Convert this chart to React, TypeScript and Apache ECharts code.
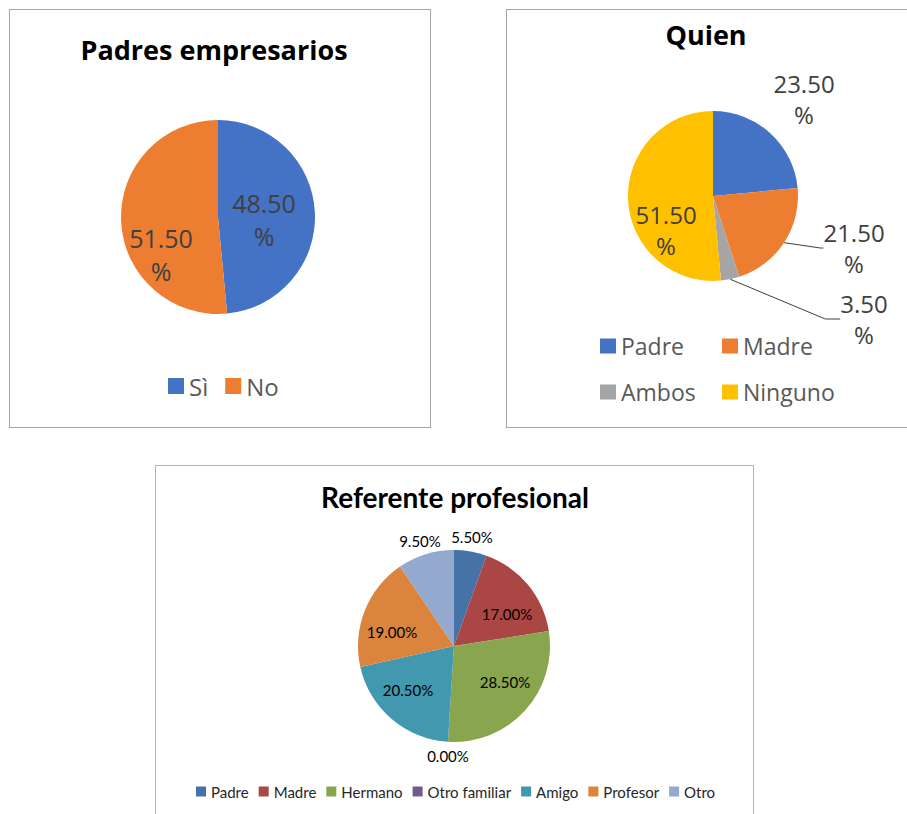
import React, { useEffect, useRef } from "react";
import * as echarts from "echarts";

// ---------- data ----------
const padresCategories = ["Sì", "No"];
const padresValues = [48.5, 51.5];

const quienCategories = ["Padre", "Madre", "Ambos", "Ninguno"];
const quienValues = [23.5, 21.5, 3.5, 51.5];

const referenteCategories = ["Padre", "Madre", "Hermano", "Otro familiar", "Amigo", "Profesor", "Otro"];
const referenteValues = [5.5, 17, 28.5, 0, 20.5, 19, 9.5];

// ---------- styles ----------
const office2013 = ["#4472C4", "#ED7D31", "#A5A5A5", "#FFC000"];
const office2007 = ["#4572A7", "#AA4643", "#89A54E", "#71588F", "#4198AF", "#DB843D", "#93A9CF"];

// label anchor points (chart-local pixels)
const padresLabelAt = [[255, 210], [152, 245]];
const quienLabelAt = [[298, 90], [348, 239], [358, 310], [160, 221]];
const referenteLabelAt = [[317, 72], [352, 149], [350, 217], [293, 291], [253, 225], [237, 167], [265, 76]];

const OS = "'Open Sans', sans-serif";
const LATO = "Lato, sans-serif";

function ChartBox(props: { left: number; top: number; width: number; height: number; border: any; option: any }) {
  const ref = useRef<HTMLDivElement>(null);
  useEffect(() => {
    const chart = echarts.init(ref.current!, null, { renderer: "svg" });
    chart.setOption(props.option);
    return () => chart.dispose();
  }, []);
  const { left, top, width, height, border } = props;
  return (
    <div style={{ position: "absolute", left, top, width, height }}>
      <div ref={ref} style={{ position: "absolute", left: 0, top: 0, width, height }} />
      <div
        style={{
          position: "absolute",
          left: 0,
          top: 0,
          width,
          height,
          boxSizing: "border-box",
          pointerEvents: "none",
          ...border,
        }}
      />
    </div>
  );
}

const option1 = {
  animation: false,
  title: {
    text: "Padres empresarios",
    left: 205,
    top: 27,
    textAlign: "center",
    padding: 0,
    textStyle: { fontFamily: OS, fontWeight: "bold", fontSize: 27, color: "#000" },
  },
  legend: {
    data: padresCategories,
    left: 159,
    top: 365,
    padding: 0,
    icon: "rect",
    itemWidth: 16,
    itemHeight: 16,
    itemGap: 17,
    textStyle: { fontFamily: OS, fontSize: 24, color: "#595959" },
  },
  series: [
    {
      type: "pie",
      center: [209, 208],
      radius: 97,
      startAngle: 90,
      clockwise: true,
      data: padresCategories.map((n, i) => ({ name: n, value: padresValues[i], itemStyle: { color: office2013[i] } })),
      itemStyle: { borderWidth: 0 },
      label: {
        position: "inside",
        formatter: (p: any) => p.value.toFixed(2) + "\n%",
        fontFamily: OS,
        fontSize: 25,
        lineHeight: 33,
        color: "#404040",
      },
      labelLine: { show: false },
      labelLayout: (p: any) => {
        const at = padresLabelAt[p.dataIndex];
        return { x: at[0], y: at[1], align: "center", verticalAlign: "middle" };
      },
      emphasis: { disabled: true },
    },
  ],
};

const option2 = {
  animation: false,
  title: {
    text: "Quien",
    left: 200,
    top: 12,
    textAlign: "center",
    padding: 0,
    textStyle: { fontFamily: OS, fontWeight: "bold", fontSize: 27, color: "#000" },
  },
  legend: {
    data: quienCategories,
    left: 94,
    top: 317,
    width: 250,
    padding: 0,
    icon: "rect",
    itemWidth: 16,
    itemHeight: 15,
    itemGap: 6,
    textStyle: { fontFamily: OS, fontSize: 23, color: "#595959", width: 95, lineHeight: 40 },
  },
  series: [
    {
      type: "pie",
      center: [207, 187],
      radius: 85,
      startAngle: 90,
      clockwise: true,
      avoidLabelOverlap: false,
      data: quienCategories.map((n, i) => {
        const item: any = { name: n, value: quienValues[i], itemStyle: { color: office2013[i] } };
        if (n === "Padre") item.labelLine = { show: false };
        if (n === "Madre") item.labelLine = { show: true, length2: 3 };
        if (n === "Ambos") item.labelLine = { show: true, length2: 15 };
        if (n === "Ninguno") {
          item.label = { position: "inside" };
          item.labelLine = { show: false };
        }
        return item;
      }),
      itemStyle: { borderWidth: 0 },
      label: {
        position: "outside",
        formatter: (p: any) => p.value.toFixed(2) + "\n%",
        fontFamily: OS,
        fontSize: 24,
        lineHeight: 31,
        color: "#404040",
      },
      labelLine: { show: true, length: 8, length2: 10, lineStyle: { color: "#404040", width: 1 } },
      labelLayout: (p: any) => {
        const at = quienLabelAt[p.dataIndex];
        return { x: at[0], y: at[1], align: "center", verticalAlign: "middle" };
      },
      emphasis: { disabled: true },
    },
  ],
};

const option3 = {
  animation: false,
  title: {
    text: "Referente profesional",
    left: 300,
    top: 18,
    textAlign: "center",
    padding: 0,
    textStyle: { fontFamily: LATO, fontWeight: "bold", fontSize: 28, color: "#000" },
  },
  legend: {
    data: referenteCategories,
    left: 41,
    top: 319,
    padding: 0,
    icon: "rect",
    itemWidth: 10,
    itemHeight: 10,
    itemGap: 10,
    textStyle: { fontFamily: LATO, fontSize: 15, color: "#262626" },
  },
  series: [
    {
      type: "pie",
      center: [299, 181],
      radius: 96,
      startAngle: 90,
      clockwise: true,
      avoidLabelOverlap: false,
      data: referenteCategories.map((n, i) => ({ name: n, value: referenteValues[i], itemStyle: { color: office2007[i] } })),
      itemStyle: { borderWidth: 0 },
      label: {
        position: "inside",
        formatter: (p: any) => p.value.toFixed(2) + "%",
        fontFamily: LATO,
        fontSize: 15,
        color: "#000",
      },
      labelLine: { show: false },
      labelLayout: (p: any) => {
        const at = referenteLabelAt[p.dataIndex];
        return { x: at[0], y: at[1], align: "center", verticalAlign: "middle" };
      },
      emphasis: { disabled: true },
    },
  ],
};

export default function App() {
  return (
    <>
      <ChartBox left={9} top={9} width={422} height={419} border={{ border: "1px solid #a6a6a6" }} option={option1} />
      <ChartBox
        left={506}
        top={9}
        width={401}
        height={419}
        border={{ borderTop: "1px solid #a6a6a6", borderLeft: "1px solid #a6a6a6", borderBottom: "1px solid #a6a6a6" }}
        option={option2}
      />
      <ChartBox
        left={155}
        top={465}
        width={599}
        height={349}
        border={{ borderTop: "1px solid #b5b5b5", borderLeft: "1px solid #b5b5b5", borderRight: "1px solid #b5b5b5" }}
        option={option3}
      />
    </>
  );
}
